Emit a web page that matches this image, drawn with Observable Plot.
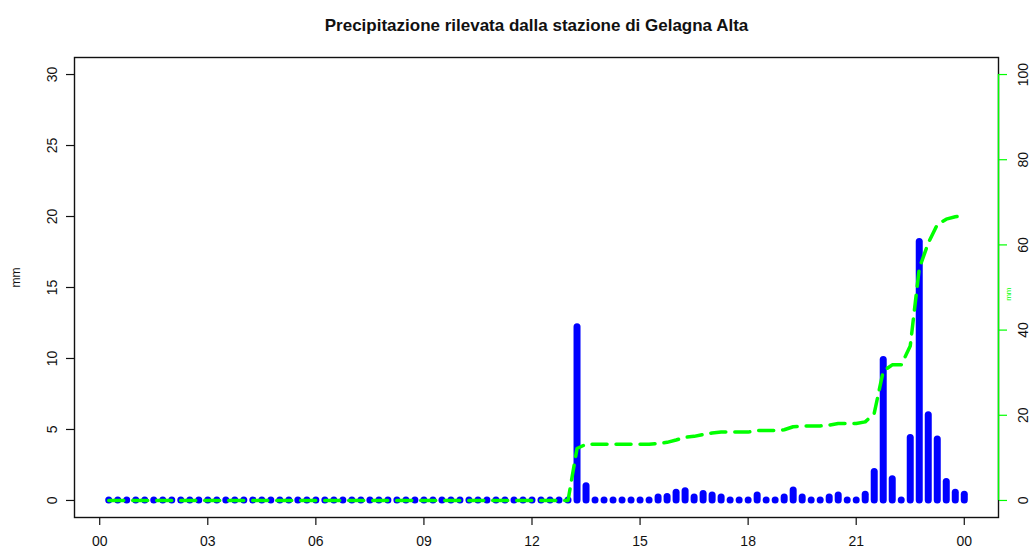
<!DOCTYPE html>
<html>
<head>
<meta charset="utf-8">
<script src="https://cdn.jsdelivr.net/npm/d3@7"></script>
<script src="https://cdn.jsdelivr.net/npm/@observablehq/plot@0.6"></script>
<style>
  html, body { margin: 0; padding: 0; background: #fff; }
  #chart { width: 1029px; height: 551px; }
</style>
</head>
<body>
<div id="chart"></div>
<script>
// Quarter-hour readings for the day (one row per hour)
const times = [
  "00:15","00:30","00:45","01:00",
  "01:15","01:30","01:45","02:00",
  "02:15","02:30","02:45","03:00",
  "03:15","03:30","03:45","04:00",
  "04:15","04:30","04:45","05:00",
  "05:15","05:30","05:45","06:00",
  "06:15","06:30","06:45","07:00",
  "07:15","07:30","07:45","08:00",
  "08:15","08:30","08:45","09:00",
  "09:15","09:30","09:45","10:00",
  "10:15","10:30","10:45","11:00",
  "11:15","11:30","11:45","12:00",
  "12:15","12:30","12:45","13:00",
  "13:15","13:30","13:45","14:00",
  "14:15","14:30","14:45","15:00",
  "15:15","15:30","15:45","16:00",
  "16:15","16:30","16:45","17:00",
  "17:15","17:30","17:45","18:00",
  "18:15","18:30","18:45","19:00",
  "19:15","19:30","19:45","20:00",
  "20:15","20:30","20:45","21:00",
  "21:15","21:30","21:45","22:00",
  "22:15","22:30","22:45","23:00",
  "23:15","23:30","23:45","24:00"
];

// Precipitation per quarter hour (mm)
const rain = [
  0, 0, 0, 0,
  0, 0, 0, 0,
  0, 0, 0, 0,
  0, 0, 0, 0,
  0, 0, 0, 0,
  0, 0, 0, 0,
  0, 0, 0, 0,
  0, 0, 0, 0,
  0, 0, 0, 0,
  0, 0, 0, 0,
  0, 0, 0, 0,
  0, 0, 0, 0,
  0, 0, 0, 0,
  12.2, 1.0, 0, 0,
  0, 0, 0, 0,
  0, 0.2, 0.25, 0.55,
  0.65, 0.2, 0.45, 0.35,
  0.2, 0, 0, 0,
  0.35, 0, 0, 0.2,
  0.7, 0.2, 0, 0,
  0.2, 0.35, 0, 0,
  0.4, 2.0, 9.9, 1.5,
  0, 4.4, 18.2, 6.0,
  4.3, 1.3, 0.55, 0.4
];

// Axis ticks
const xTicks = [0, 3, 6, 9, 12, 15, 18, 21, 24];
const xTickLabels = ["00", "03", "06", "09", "12", "15", "18", "21", "00"];
const yTicks = [0, 5, 10, 15, 20, 25, 30];
const y2Ticks = [0, 20, 40, 60, 80, 100];

const title = "Precipitazione rilevata dalla stazione di Gelagna Alta";
const yLabel = "mm";
const y2Label = "mm";

// Left axis 0–30 mm shares its span with the right (cumulative) axis 0–100 mm
const yMax = 30, y2Max = 100;
const k = yMax / y2Max;

// Axis limits with the usual 4% padding around the data range
const xDomain = [-0.7, 24.95];
const yDomain = [-1.2, 31.2];

const toHours = (s) => { const [h, m] = s.split(":").map(Number); return h + m / 60; };
const cum = d3.cumsum(rain);
const data = times.map((t, i) => ({h: toHours(t), rain: rain[i], cum: cum[i]}));

const green = "#00ff00";
const ink = "#111";

const chart = Plot.plot({
  width: 1029,
  height: 551,
  marginLeft: 74,
  marginRight: 31,
  marginTop: 57,
  marginBottom: 34,
  style: {fontFamily: "'Liberation Sans', Arial, Helvetica, sans-serif", background: "#fff", color: ink},
  x: {domain: xDomain},
  y: {domain: yDomain},
  marks: [
    // quarter-hour precipitation as thick round-capped spikes
    Plot.ruleX(data, {x: "h", y1: 0, y2: "rain", stroke: "#0000ff", strokeWidth: 7, strokeLinecap: "round"}),
    Plot.frame({stroke: ink, strokeWidth: 1.4}),
    // bottom axis
    Plot.axisX({ticks: xTicks, tickFormat: (d) => xTickLabels[xTicks.indexOf(d)], tickSize: 8, tickPadding: 11, fontSize: 14, label: null, stroke: ink, strokeWidth: 1.2}),
    // left axis
    Plot.axisY({ticks: yTicks, tickSize: 8, tickPadding: 10, tickRotate: -90, fontSize: 14, label: null, stroke: ink, strokeWidth: 1.2}),
    Plot.text([yLabel], {text: (d) => d, frameAnchor: "left", dx: -58, rotate: -90, fontSize: 12, fill: ink}),
    // cumulative precipitation on the right scale
    Plot.line(data, {x: "h", y: (d) => d.cum * k, stroke: green, strokeWidth: 3.5, strokeDasharray: "15,9", strokeLinecap: "round"}),
    // right axis
    Plot.ruleX([xDomain[1]], {y1: 0, y2: y2Max * k, stroke: green, strokeWidth: 1.4}),
    Plot.axisY({anchor: "right", ticks: y2Ticks.map((v) => v * k), tickFormat: (d) => String(Math.round(d / k)), tickSize: 8, tickPadding: 21, tickRotate: -90, fontSize: 14, label: null, stroke: green, fill: ink, strokeWidth: 1.2}),
    Plot.text([y2Label], {text: (d) => d, frameAnchor: "right", dx: 10, rotate: -90, fontSize: 8, fill: green}),
    // title
    Plot.text([title], {text: (d) => d, frameAnchor: "top", dy: -39, fontSize: 17, fontWeight: "bold", fill: ink})
  ]
});

document.getElementById("chart").appendChild(chart);
</script>
</body>
</html>
